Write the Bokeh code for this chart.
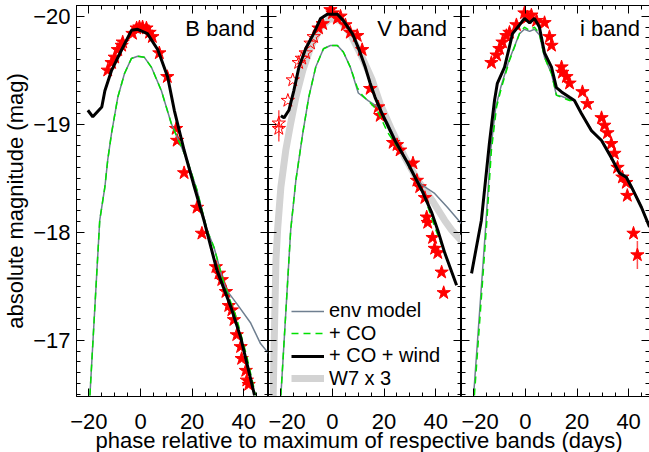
import numpy as np
from bokeh.plotting import figure
from bokeh.models import Range1d, LinearAxis, FixedTicker, Legend, LegendItem
from bokeh.layouts import row, column
from bokeh.embed import file_html
from bokeh.resources import INLINE
from bokeh.core.properties import value

FONT = "Liberation Sans"
FS = "22px"
LEG_FS = "20px"

# ---------------- data (phase in days, absolute magnitude) ----------------
# B band
B_env_day = [-19.6, -15.8, -13.8, -12.7, -11.2, -8.8, -6.2, -3.5, -1.1, 1.5, 4.2, 8.1, 11.9, 14.2, 18.1, 21.9, 25.8, 28.5, 32.3, 33.5, 37.3, 42.7, 46.5, 49.6]
B_env_mag = [-16.49, -18.11, -18.42, -18.67, -18.92, -19.25, -19.47, -19.61, -19.63, -19.62, -19.53, -19.31, -19.01, -18.88, -18.67, -18.39, -18.02, -17.86, -17.53, -17.46, -17.34, -17.16, -16.97, -16.88]
B_co_day = [-19.6, -15.8, -13.8, -12.7, -11.2, -8.8, -6.2, -3.5, -1.1, 1.5, 4.2, 8.1, 11.9, 14.2, 18.1, 21.9, 25.8, 28.5, 32.3, 37.3, 41.2, 44.6]
B_co_mag = [-16.49, -18.11, -18.42, -18.67, -18.92, -19.25, -19.47, -19.61, -19.63, -19.62, -19.53, -19.31, -19.01, -18.88, -18.67, -18.39, -18.02, -17.86, -17.53, -17.20, -16.85, -16.49]
B_wind_day = [-20.4, -18.5, -15.0, -13.8, -11.2, -7.3, -3.5, -1.1, 2.7, 6.7, 10.5, 13.1, 16.9, 20.5, 24.6, 29.6, 35.0, 38.8, 41.9, 44.2]
B_wind_mag = [-19.13, -19.07, -19.16, -19.31, -19.50, -19.69, -19.87, -19.88, -19.84, -19.69, -19.44, -19.13, -18.76, -18.45, -18.11, -17.65, -17.31, -17.03, -16.72, -16.49]
B_obs_day = [-12.7, -11.2, -10.0, -8.8, -7.3, -6.9, -3.1, -1.5, -0.4, 0.8, 2.3, 3.5, 4.6, 7.3, 10.4, 13.8, 14.2, 16.9, 21.9, 23.8, 29.2, 30.4, 31.5, 33.1, 34.2, 35.4, 36.2, 37.3, 38.8, 39.2, 40.8, 41.2, 41.9]
B_obs_mag = [-19.50, -19.57, -19.62, -19.69, -19.73, -19.76, -19.84, -19.89, -19.90, -19.90, -19.89, -19.85, -19.81, -19.66, -19.44, -18.96, -18.85, -18.55, -18.23, -17.99, -17.68, -17.62, -17.56, -17.45, -17.32, -17.28, -17.19, -17.05, -16.94, -16.83, -16.72, -16.63, -16.59]
B_obs_open = [False] * len(B_obs_day)
B_obs_err = [0.0] * len(B_obs_day)

# V band
V_env_day = [-20.0, -16.2, -14.2, -11.5, -9.2, -6.5, -3.5, -0.8, 1.9, 4.2, 6.9, 10.0, 13.8, 17.7, 21.5, 26.9, 31.9, 34.6, 39.6, 44.6, 50.0]
V_env_mag = [-16.49, -18.02, -18.48, -18.92, -19.25, -19.53, -19.70, -19.73, -19.73, -19.67, -19.53, -19.29, -19.22, -19.16, -19.01, -18.73, -18.51, -18.44, -18.36, -18.23, -18.08]
V_co_day = [-20.0, -16.2, -14.2, -11.5, -9.2, -6.5, -3.5, -0.8, 1.9, 4.2, 6.9, 9.6, 11.5, 14.6, 17.3, 21.5, 26.9, 31.9, 35.8, 39.6, 42.7, 48.1]
V_co_mag = [-16.49, -18.02, -18.48, -18.92, -19.25, -19.53, -19.70, -19.73, -19.73, -19.67, -19.53, -19.34, -19.27, -19.20, -19.13, -18.92, -18.73, -18.51, -18.32, -18.05, -17.86, -17.51]
V_wind_day = [-20.0, -18.8, -16.9, -15.0, -13.0, -10.4, -7.3, -4.6, -1.9, 1.9, 4.2, 7.7, 10.0, 12.7, 14.6, 16.5, 19.2, 24.2, 29.2, 34.6, 38.5, 40.8, 43.5, 48.1]
V_wind_mag = [-19.08, -19.06, -19.13, -19.31, -19.53, -19.70, -19.84, -19.98, -20.02, -20.02, -19.96, -19.84, -19.71, -19.53, -19.38, -19.25, -19.10, -18.85, -18.64, -18.39, -18.18, -18.02, -17.81, -17.51]
V_w7_day = [-23.0, -22.4, -21.9, -21.2, -20.0, -18.1, -16.2, -14.2, -11.5, -8.5, -4.6, -0.8, 3.1, 6.9, 11.5, 15.4, 18.5, 23.1, 28.1, 33.1, 38.5, 43.5, 46.2, 50.0]
V_w7_mag = [-16.48, -17.20, -17.75, -18.05, -18.42, -18.76, -19.01, -19.25, -19.50, -19.71, -19.90, -19.98, -19.96, -19.84, -19.62, -19.41, -19.19, -18.94, -18.69, -18.48, -18.30, -18.11, -18.02, -17.92]
V_obs_day = [-20.8, -20.8, -17.3, -15.4, -13.1, -11.9, -10.4, -8.5, -7.3, -5.4, -3.8, -0.8, 0.0, 1.9, 3.1, 5.0, 6.9, 9.6, 11.5, 14.6, 17.7, 18.5, 23.5, 25.0, 26.2, 31.2, 32.7, 33.8, 35.8, 36.5, 36.9, 38.8, 39.6, 40.8, 42.3, 43.1]
V_obs_mag = [-19.01, -18.96, -19.22, -19.41, -19.57, -19.61, -19.66, -19.75, -19.81, -19.89, -19.93, -20.06, -20.03, -19.98, -20.00, -19.92, -19.85, -19.82, -19.69, -19.33, -19.16, -19.08, -18.83, -18.81, -18.76, -18.64, -18.48, -18.42, -18.32, -18.14, -18.09, -17.95, -17.85, -17.81, -17.63, -17.44]
V_obs_open = [True] * 9 + [False] * 27
V_obs_err = [0.12, 0.12] + [0.0] * 34

# i band
i_env_day = [-20.1, -15.4, -13.5, -11.5, -9.6, -6.4, -2.3, -0.4, 1.6, 3.5, 5.4, 7.4, 10.1, 12.0, 14.0, 17.1, 19.0, 21.7, 25.6, 29.5, 33.3, 36.4, 39.1, 41.1, 45.0, 48.1]
i_env_mag = [-16.49, -18.06, -18.76, -19.16, -19.34, -19.59, -19.84, -19.88, -19.86, -19.88, -19.83, -19.62, -19.47, -19.27, -19.26, -19.23, -19.22, -19.10, -18.95, -18.86, -18.70, -18.56, -18.52, -18.43, -18.24, -18.05]
i_co_day = [-19.8, -15.1, -13.2, -11.2, -9.3, -6.2, -2.3, -0.4, 1.6, 3.5, 5.4, 7.4, 10.1, 12.0, 14.0, 17.1, 19.0, 21.7, 25.6, 29.5, 33.3, 36.4, 39.1, 41.1, 45.0, 48.1]
i_co_mag = [-16.49, -18.06, -18.76, -19.16, -19.34, -19.59, -19.84, -19.90, -19.87, -19.90, -19.84, -19.62, -19.47, -19.27, -19.25, -19.22, -19.22, -19.10, -18.94, -18.85, -18.69, -18.55, -18.51, -18.42, -18.23, -18.05]
i_wind_day = [-20.9, -17.1, -14.0, -12.0, -10.9, -8.1, -5.0, -2.3, -0.4, 1.6, 3.5, 5.4, 7.4, 10.1, 12.0, 14.0, 17.1, 19.0, 21.7, 25.6, 29.5, 33.3, 36.4, 39.1, 41.1, 45.0, 48.1]
i_wind_mag = [-17.62, -18.11, -18.82, -19.22, -19.38, -19.53, -19.84, -19.92, -19.98, -19.94, -19.98, -19.90, -19.66, -19.53, -19.34, -19.30, -19.25, -19.22, -19.10, -18.94, -18.85, -18.69, -18.55, -18.51, -18.42, -18.23, -18.05]
i_obs_day = [-13.2, -11.2, -10.1, -8.9, -7.4, -6.2, -3.5, -0.4, 0.8, 2.3, 4.3, 7.4, 9.3, 10.1, 14.0, 14.3, 15.9, 17.1, 22.1, 24.0, 29.5, 30.6, 31.8, 33.3, 34.5, 35.7, 37.6, 39.1, 39.5, 41.9, 43.4]
i_obs_mag = [-19.57, -19.64, -19.70, -19.76, -19.82, -19.85, -19.92, -20.03, -19.99, -20.01, -19.96, -19.94, -19.81, -19.73, -19.53, -19.48, -19.44, -19.38, -19.30, -19.19, -19.06, -18.99, -18.92, -18.82, -18.73, -18.60, -18.51, -18.46, -18.34, -17.99, -17.79]
i_obs_open = [False] * len(i_obs_day)
i_obs_err = [0.0] * 30 + [0.13]

band_labels = ["B band", "V band", "i band"]
series_labels = ["env model", "+ CO", "+ CO + wind", "W7 x 3"]

X_TICKS = [-20, 0, 20, 40]
X_TICK_LABELS = ["\u221220", "0", "20", "40"]
Y_TICKS = [-20, -19, -18, -17]
Y_TICK_LABELS = ["\u221220", "\u221219", "\u221218", "\u221217"]
Y_LABEL = "absolute magnitude (mag)"
X_LABEL = "phase relative to maximum of respective bands (days)"

# ---------------- layout / style ----------------
X_START = -24.8
X_ENDS = [49.6, 50.0, 48.1]
FRAME_W = [192, 193, 188]
Y_BOTTOM, Y_TOP = -16.48, -20.10
FRAME_H = 391
BOTTOM_BORDER = 43
OVERLAP = 14
LEGEND_ROW_Y = [74, 51.5, 29, 6.5]   # legend rows, px above panel bottom

X_MINOR = [float(v) for v in np.arange(-25, 51, 5)]
Y_MINOR = [round(float(v), 1) for v in np.arange(-20.1, -16.39, 0.1)]

C_ENV = "#6f7f90"
C_CO = "#00e000"
C_WIND = "black"
C_W7 = "#d3d3d3"
C_OBS = "#ff0000"


def style_ticks(ax):
    ax.major_tick_in = 8
    ax.major_tick_out = 0
    ax.minor_tick_in = 4
    ax.minor_tick_out = 0
    ax.axis_line_color = "black"
    ax.major_tick_line_color = "black"
    ax.minor_tick_line_color = "black"


def labelled_axis(ticks, labels, minor):
    ax = LinearAxis(ticker=FixedTicker(ticks=ticks, minor_ticks=minor))
    style_ticks(ax)
    ax.major_label_overrides = {t: l for t, l in zip(ticks, labels)}
    ax.major_label_text_font = FONT
    ax.major_label_text_font_size = FS
    ax.major_label_text_color = "black"
    return ax


def mirror_axes(p, side, ticks, minor):
    # tick marks only (no labels): short ones and long ones drawn on the same line
    for tk, length in ((minor, 4), (ticks, 8)):
        ax = LinearAxis(ticker=FixedTicker(ticks=[], minor_ticks=tk))
        ax.minor_tick_in = length
        ax.minor_tick_out = 0
        ax.minor_tick_line_color = "black"
        ax.major_tick_in = 0
        ax.major_tick_out = 0
        ax.major_label_standoff = 0
        ax.axis_line_color = "black"
        p.add_layout(ax, side)


def panel(k, env, co, wind, obs, w7=None):
    first = k == 0
    last = k == 2
    p = figure(x_range=Range1d(X_START, X_ENDS[k]), y_range=Range1d(Y_BOTTOM, Y_TOP),
               frame_width=FRAME_W[k], frame_height=FRAME_H,
               min_border_left=72 if first else 0, min_border_right=4 if last else 0,
               min_border_top=5, min_border_bottom=BOTTOM_BORDER,
               x_axis_type=None, y_axis_type=None,
               toolbar_location=None, output_backend="svg")
    p.outline_line_color = "black"
    p.outline_line_width = 1
    p.background_fill_color = "white"
    p.border_fill_color = "white"

    bx = labelled_axis(X_TICKS, X_TICK_LABELS, X_MINOR)
    bx.major_label_standoff = 17
    p.add_layout(bx, "below")
    mirror_axes(p, "above", X_TICKS, X_MINOR)
    if first:
        ly = labelled_axis(Y_TICKS, Y_TICK_LABELS, Y_MINOR)
        ly.major_label_standoff = 6
        ly.axis_label = Y_LABEL
        ly.axis_label_text_font = FONT
        ly.axis_label_text_font_size = FS
        ly.axis_label_text_font_style = "normal"
        ly.axis_label_text_color = "black"
        ly.axis_label_standoff = 2
        p.add_layout(ly, "left")
    else:
        mirror_axes(p, "left", Y_TICKS, Y_MINOR)
    mirror_axes(p, "right", Y_TICKS, Y_MINOR)

    rends = {}
    if w7 is not None:
        rends["w7"] = p.line(w7[0], w7[1], line_color=C_W7, line_width=7)

    od, om, oo, oe = obs
    ex = [d for d, e in zip(od, oe) if e > 0]
    ey0 = [m - e for m, e in zip(om, oe) if e > 0]
    ey1 = [m + e for m, e in zip(om, oe) if e > 0]
    if ex:
        p.segment(x0=ex, y0=ey0, x1=ex, y1=ey1, line_color="#ff5050", line_width=1.5)
    fx = [d for d, o in zip(od, oo) if not o]
    fy = [m for m, o in zip(om, oo) if not o]
    hx = [d for d, o in zip(od, oo) if o]
    hy = [m for m, o in zip(om, oo) if o]
    p.scatter(fx, fy, marker="star", size=14, fill_color=C_OBS, line_color=C_OBS, line_width=1)
    if hx:
        p.scatter(hx, hy, marker="star", size=14, fill_alpha=0, line_color=C_OBS, line_width=1)

    rends["env"] = p.line(env[0], env[1], line_color=C_ENV, line_width=1.5)
    rends["co"] = p.line(co[0], co[1], line_color=C_CO, line_width=1.5, line_dash="7 5")
    rends["wind"] = p.line(wind[0], wind[1], line_color=C_WIND, line_width=3)

    p.text(x=[44.4], y=[-19.885], text=[band_labels[k]], text_align="right",
           text_baseline="middle", text_font=value(FONT), text_font_size=FS, text_color="black")
    return p, rends


p1, r1 = panel(0, (B_env_day, B_env_mag), (B_co_day, B_co_mag), (B_wind_day, B_wind_mag),
               (B_obs_day, B_obs_mag, B_obs_open, B_obs_err))
p2, r2 = panel(1, (V_env_day, V_env_mag), (V_co_day, V_co_mag), (V_wind_day, V_wind_mag),
               (V_obs_day, V_obs_mag, V_obs_open, V_obs_err), w7=(V_w7_day, V_w7_mag))
p3, r3 = panel(2, (i_env_day, i_env_mag), (i_co_day, i_co_mag), (i_wind_day, i_wind_mag),
               (i_obs_day, i_obs_mag, i_obs_open, i_obs_err))

for key, label, ypos in zip(["env", "co", "wind", "w7"], series_labels, LEGEND_ROW_Y):
    lg = Legend(items=[LegendItem(label=label, renderers=[r2[key]])],
                location=(23, ypos), orientation="vertical",
                glyph_width=33, glyph_height=20, label_height=20, label_standoff=5,
                spacing=0, padding=0, margin=0,
                label_text_font=FONT, label_text_font_size=LEG_FS, label_text_color="black",
                border_line_alpha=0, background_fill_alpha=0)
    p2.add_layout(lg)

panel_h = 5 + FRAME_H + BOTTOM_BORDER
lab_h = 452 - panel_h + OVERLAP
lab = figure(width=649, height=lab_h, x_range=Range1d(0, 1), y_range=Range1d(0, lab_h),
             min_border_left=72, min_border_right=4, min_border_top=0, min_border_bottom=0,
             x_axis_type=None, y_axis_type=None, toolbar_location=None, output_backend="svg",
             margin=(-OVERLAP, 0, 0, 0))
lab.outline_line_color = None
lab.background_fill_alpha = 0
lab.border_fill_alpha = 0
lab.text(x=[0.5], y=[12.5], text=[X_LABEL], text_align="center", text_baseline="middle",
         text_font=value(FONT), text_font_size=FS, text_color="black")

layout = column(row(p1, p2, p3, spacing=0), lab, spacing=0)
open("out.html", "w").write(file_html(layout, INLINE))
